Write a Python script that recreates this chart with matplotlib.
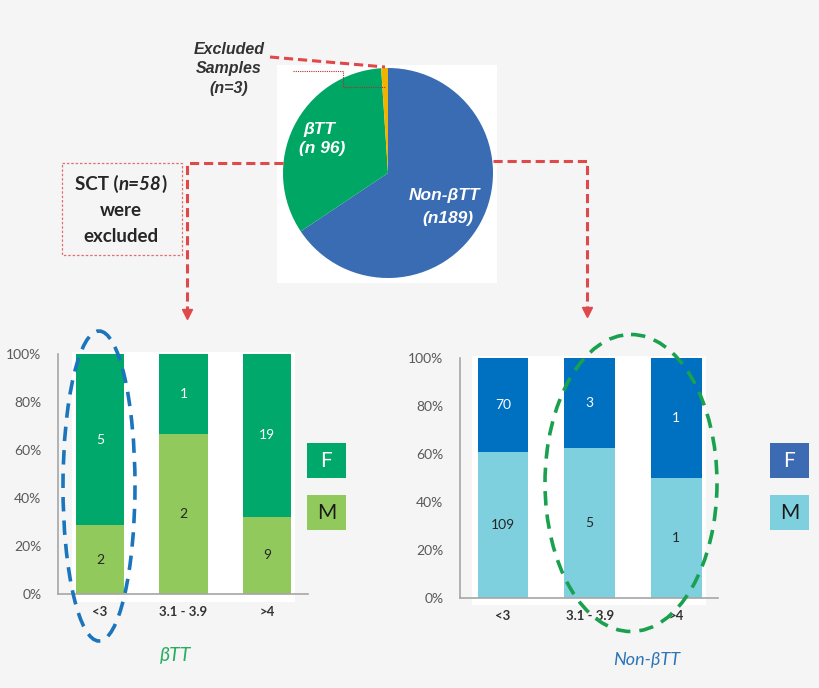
import matplotlib.pyplot as plt
from matplotlib.patches import Rectangle, Ellipse

# pie data
pie_labels = ["Non-βTT", "βTT", "Excluded"]
pie_counts = [189, 96, 3]

# bar data
groups = ["<3", "3.1 - 3.9", ">4"]
btt_m = [2, 2, 9]
btt_f = [5, 1, 19]
non_m = [109, 5, 1]
non_f = [70, 3, 1]
pct_ticks = [0, 20, 40, 60, 80, 100]

W, H = 820, 688
BG = "#f5f5f5"
RED = "#e0484a"
FONT = ["Lato", "DejaVu Sans"]
ARIAL = ["Liberation Sans", "DejaVu Sans"]

fig = plt.figure(figsize=(W / 100, H / 100), dpi=100, facecolor=BG)


def px_axes(x0, y0, x1, y1, **kw):
    # axes from pixel box (top-left origin)
    return fig.add_axes([x0 / W, 1 - y1 / H, (x1 - x0) / W, (y1 - y0) / H], **kw)


# background layer
bg = fig.add_axes([0, 0, 1, 1])
bg.set_xlim(0, W)
bg.set_ylim(H, 0)
bg.axis("off")
bg.add_patch(Rectangle((277, 65), 220, 218, color="white", lw=0))
bg.add_patch(Rectangle((72, 352), 223, 250, color="white", lw=0))
bg.add_patch(Rectangle((472, 356), 234, 249, color="white", lw=0))

# pie
pax = px_axes(283, 68, 493, 278)
pax.pie(pie_counts, colors=["#3a6cb4", "#00a664", "#f0b400"], startangle=90,
        counterclock=False, wedgeprops=dict(lw=0))
pax.set_xlim(-1, 1)
pax.set_ylim(-1, 1)
pax.set_aspect("equal")
pie_txt = dict(color="white", fontsize=12.5, fontweight="bold", style="italic",
               ha="center", va="center", family=ARIAL)
pax.text(-0.65, 0.41, "βTT", **pie_txt)
pax.text(-0.63, 0.23, "(n 96)", **pie_txt)
pax.text(0.54, -0.21, "Non-βTT", **pie_txt)
pax.text(0.57, -0.43, "(n189)", **pie_txt)


def stacked(box, xlim, m, f, cm, cf, width):
    ax = px_axes(*box)
    ax.set_facecolor("none")
    tot = [a + b for a, b in zip(m, f)]
    mp = [a / t * 100 for a, t in zip(m, tot)]
    fp = [b / t * 100 for b, t in zip(f, tot)]
    x = range(len(groups))
    b1 = ax.bar(x, mp, width=width, color=cm)
    b2 = ax.bar(x, fp, width=width, bottom=mp, color=cf)
    ax.bar_label(b1, labels=[str(v) for v in m], label_type="center",
                 fontsize=10, color="#262626", family=FONT)
    ax.bar_label(b2, labels=[str(v) for v in f], label_type="center",
                 fontsize=10, color="white", family=FONT)
    ax.set_xlim(*xlim)
    ax.set_ylim(0, 100)
    ax.set_yticks(pct_ticks)
    ax.set_yticklabels([f"{t}%" for t in pct_ticks], family=FONT,
                       fontsize=10, color="#595959")
    ax.set_xticks(list(x))
    ax.set_xticklabels(groups, family=FONT, fontsize=9.5, fontweight="bold",
                       color="#333333")
    ax.tick_params(length=0)
    ax.tick_params(axis="y", pad=12)
    ax.tick_params(axis="x", pad=9)
    for s in ["top", "right"]:
        ax.spines[s].set_visible(False)
    for s in ["left", "bottom"]:
        ax.spines[s].set_color("#a6a6a6")
        ax.spines[s].set_linewidth(1.2)
    return ax


stacked((58, 354, 308, 594), (-0.503, 2.491), btt_m, btt_f,
        "#92c95c", "#00a86b", 0.575)
stacked((460, 358, 718, 598), (-0.496, 2.48), non_m, non_f,
        "#7fd0df", "#0070c0", 0.583)

# foreground annotation layer
fg = fig.add_axes([0, 0, 1, 1])
fg.set_xlim(0, W)
fg.set_ylim(H, 0)
fg.axis("off")
fg.patch.set_alpha(0)

# legends
for x0, col_f, col_m in [(307, "#00a86b", "#92c95c"), (770, "#3d6bb3", "#7fd0df")]:
    fg.add_patch(Rectangle((x0, 443), 39, 35, color=col_f, lw=0))
    fg.add_patch(Rectangle((x0, 495), 39, 35, color=col_m, lw=0))
    fg.text(x0 + 19.5, 461, "F", color="white", fontsize=15, ha="center",
            va="center", family=FONT)
    fg.text(x0 + 19.5, 513, "M", color="#1a1a1a", fontsize=15, ha="center",
            va="center", family=FONT)

# chart names
fg.text(176, 655, "βTT", color="#27ae60", fontsize=14, style="italic",
        ha="center", va="center", family=FONT)
fg.text(647, 660, "Non-βTT", color="#2e75b6", fontsize=13, style="italic",
        ha="center", va="center", family=FONT)

# dashed ellipses
fg.add_patch(Ellipse((99, 486), 72, 310, fill=False, ec="#1a75bc", lw=2.6,
                     ls=(0, (4, 2.5))))
fg.add_patch(Ellipse((631, 483), 172, 297, fill=False, ec="#1aa14f", lw=2.6,
                     ls=(0, (4, 2.5))))

# red connectors with arrowheads
fg.plot([283, 187, 187], [163, 163, 312], color=RED, lw=2.2, ls=(0, (3, 1.6)))
fg.plot([187], [314], marker="v", color=RED, ms=7)
fg.plot([493, 587, 587], [161, 161, 310], color=RED, lw=2.2, ls=(0, (3, 1.6)))
fg.plot([587], [312], marker="v", color=RED, ms=7)

# excluded samples call-out
fg.plot([270, 385], [57, 67], color=RED, lw=2.2, ls=(0, (3, 1.6)))
fg.plot([293, 343, 343, 385], [71, 71, 87, 87], color="#b03030", lw=0.8,
        ls=(0, (1, 1)))
for y, t in [(49, "Excluded"), (69, "Samples"), (89, "(n=3)")]:
    fg.text(229, y, t, color="#333333", fontsize=11.5, fontweight="bold",
            style="italic", ha="center", va="center", family=ARIAL)

# SCT box
fg.add_patch(Rectangle((62, 163), 120, 92, fill=False, ec="#e07070", lw=0.9,
                       ls=(0, (2, 1.5))))
sct = dict(color="#262626", fontsize=13.5, fontweight="bold", va="center",
           family=FONT)
renderer = fig.canvas.get_renderer()
parts = [("SCT (", "normal"), ("n=58", "italic"), (")", "normal")]
objs = [fg.text(0, 184, p, style=s, ha="left", **sct) for p, s in parts]
widths = [o.get_window_extent(renderer).width for o in objs]
x = 121 - sum(widths) / 2
for o, w in zip(objs, widths):
    o.set_x(x)
    x += w
fg.text(121, 210, "were", ha="center", **sct)
fg.text(121, 237, "excluded", ha="center", **sct)

fig.savefig("out.png", dpi=100, facecolor=BG)
